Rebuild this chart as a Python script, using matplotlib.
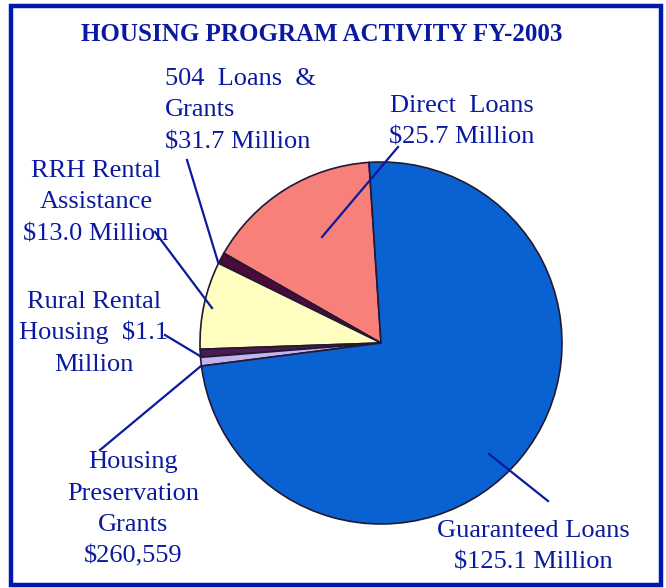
import numpy as np
import matplotlib
matplotlib.use('Agg')
import matplotlib.pyplot as plt
from matplotlib.patches import Rectangle

# slice order: counterclockwise from the top
names = ["Direct Loans", "504 Loans & Grants", "RRH Rental Assistance",
         "Rural Rental Housing", "Housing Preservation Grants", "Guaranteed Loans"]
# slice sizes as drawn in the picture ($ million)
sizes = [26.5, 1.7, 13.2, 1.2, 1.3, 125.1]
colors = ['#F8807A', '#4A0A3A', '#FFFDC0', '#4A1A50', '#C2B4F2', '#0A62D2']

label_lines = [
    ["Direct  Loans", "$25.7 Million"],
    ["504  Loans  &", "Grants", "$31.7 Million"],
    ["RRH Rental", "Assistance", "$13.0 Million"],
    ["Rural Rental", "Housing  $1.1", "Million"],
    ["Housing", "Preservation", "Grants", "$260,559"],
    ["Guaranteed Loans", "$125.1 Million"],
]
title = "HOUSING PROGRAM ACTIVITY FY-2003"

# layout (pixel coords, y from top)
W, H = 666, 588
text_pos = [(462, 112, 'center'), (165, 85, 'left'), (96, 177, 'center'),
            (94, 308, 'center'), (133, 468, 'center'), (533, 537, 'center')]
leaders = [((398, 147), (322, 237)), ((187, 160), (218, 262)),
           ((155, 232), (212, 308)), ((165, 335), (200, 356)),
           ((100, 450), (201, 366)), ((489, 454), (548, 501))]
line_step = 31.5
txt_color = '#0A1AA0'

def Y(y):
    return H - y

fig = plt.figure(figsize=(W / 100, H / 100), dpi=100)
ax = fig.add_axes([0, 0, 1, 1])

ax.pie(sizes, colors=colors, startangle=93.8, counterclock=True,
       center=(381, Y(343)), radius=181,
       wedgeprops=dict(edgecolor='#221830', linewidth=1.2))

ax.set_xlim(0, W)
ax.set_ylim(0, H)
ax.set_aspect('auto')
ax.axis('off')

# frame
ax.add_patch(Rectangle((10.5, Y(584.5)), 650.5, 578.5, fill=False,
                       edgecolor='#0018B0', linewidth=3.2))

ax.text(321.5, Y(41), title, ha='center', va='baseline', fontsize=18,
        fontweight='bold', family='Liberation Serif', color=txt_color)

for lines, (x, y0, ha) in zip(label_lines, text_pos):
    for i, s in enumerate(lines):
        ax.text(x, Y(y0 + i * line_step), s, ha=ha, va='baseline',
                fontsize=19, family='Liberation Serif', color=txt_color)

for (p0, p1) in leaders:
    ax.plot([p0[0], p1[0]], [Y(p0[1]), Y(p1[1])], color=txt_color, lw=1.6)

fig.savefig('out.png', dpi=100)
